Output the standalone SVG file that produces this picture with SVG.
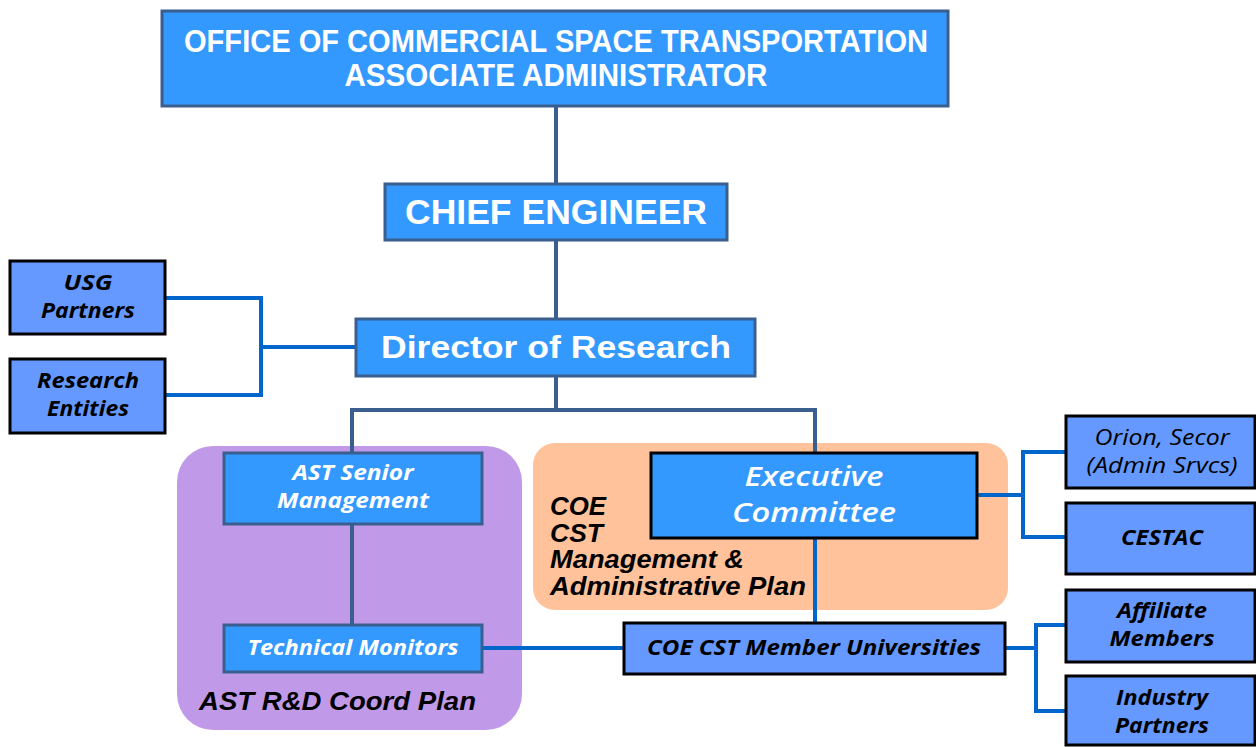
<svg xmlns="http://www.w3.org/2000/svg" width="1256" height="747" viewBox="0 0 1256 747">
<style>
.main{fill:#3399FF;stroke:#3A5F8F;stroke-width:3}
.ext{fill:#6699FF;stroke:#000;stroke-width:3}
.exb{fill:#3399FF;stroke:#000;stroke-width:3}
.dk{fill:none;stroke:#3A5F8F;stroke-width:4}
.bl{fill:none;stroke:#0066CC;stroke-width:4}
.tw{font-family:"Liberation Sans",Arial,sans-serif;font-weight:bold;fill:#fff;text-anchor:middle}
.ti{font-family:"Open Sans","Noto Sans",sans-serif;font-style:italic;font-weight:bold;text-anchor:middle}
.tn{font-family:"Open Sans","Noto Sans",sans-serif;font-style:italic;text-anchor:middle;fill:#000}
.lab{font-family:"Liberation Sans",Arial,sans-serif;font-style:italic;font-weight:bold;fill:#000}
</style>
<rect width="1256" height="747" fill="#fff"/>
<g id="groups">
<rect x="177" y="446" width="345" height="284" rx="36" fill="#C09AE8"/>
<rect x="533" y="443" width="475" height="167" rx="22" fill="#FFC29A"/>
<text class="lab" x="199" y="710" font-size="25" textLength="277" lengthAdjust="spacingAndGlyphs">AST R&amp;D Coord Plan</text>
<text class="lab" x="550" y="515" font-size="25" textLength="56" lengthAdjust="spacingAndGlyphs">COE</text>
<text class="lab" x="550" y="542" font-size="25" textLength="53" lengthAdjust="spacingAndGlyphs">CST</text>
<text class="lab" x="550" y="568" font-size="25" textLength="194" lengthAdjust="spacingAndGlyphs">Management &amp;</text>
<text class="lab" x="550" y="595" font-size="25" textLength="256" lengthAdjust="spacingAndGlyphs">Administrative Plan</text>
</g>
<g id="connectors">
<line class="dk" x1="556" y1="106" x2="556" y2="184"/>
<line class="dk" x1="556" y1="240" x2="556" y2="319"/>
<polyline class="dk" points="556,376 556,410"/>
<polyline class="dk" points="352,453 352,410 815,410 815,453"/>
<line class="dk" x1="352" y1="524" x2="352" y2="625"/>
<polyline class="bl" points="165,298 261,298 261,395 165,395"/>
<line class="bl" x1="261" y1="347" x2="356" y2="347"/>
<line class="bl" x1="815" y1="538" x2="815" y2="623"/>
<line class="bl" x1="482" y1="648" x2="624" y2="648"/>
<line class="bl" x1="977" y1="495" x2="1023" y2="495"/>
<polyline class="bl" points="1066,452 1023,452 1023,537 1066,537"/>
<line class="bl" x1="1005" y1="648" x2="1036" y2="648"/>
<polyline class="bl" points="1066,625 1036,625 1036,711 1066,711"/>
</g>
<g id="office">
<rect class="main" x="162" y="11" width="786" height="95"/>
<text class="tw" x="556" y="52" font-size="31" textLength="744" lengthAdjust="spacingAndGlyphs">OFFICE OF COMMERCIAL SPACE TRANSPORTATION</text>
<text class="tw" x="556" y="86" font-size="31" textLength="423" lengthAdjust="spacingAndGlyphs">ASSOCIATE ADMINISTRATOR</text>
</g>
<g id="chief">
<rect class="main" x="385" y="184" width="342" height="56"/>
<text class="tw" x="556" y="224" font-size="35" textLength="302" lengthAdjust="spacingAndGlyphs">CHIEF ENGINEER</text>
</g>
<g id="director">
<rect class="main" x="356" y="319" width="399" height="57"/>
<text class="tw" x="556" y="358" font-size="32" textLength="350" lengthAdjust="spacingAndGlyphs">Director of Research</text>
</g>
<g id="usg">
<rect class="ext" x="10" y="261" width="155" height="73"/>
<text class="ti" x="88" y="290" font-size="22" textLength="49" lengthAdjust="spacingAndGlyphs">USG</text>
<text class="ti" x="88" y="318" font-size="22" textLength="94" lengthAdjust="spacingAndGlyphs">Partners</text>
</g>
<g id="research">
<rect class="ext" x="10" y="359" width="155" height="74"/>
<text class="ti" x="88" y="388" font-size="22" textLength="102" lengthAdjust="spacingAndGlyphs">Research</text>
<text class="ti" x="88" y="416" font-size="22" textLength="82" lengthAdjust="spacingAndGlyphs">Entities</text>
</g>
<g id="ast-senior">
<rect class="main" x="224" y="453" width="258" height="71"/>
<text class="ti" x="353" y="480" font-size="22" fill="#fff" textLength="121" lengthAdjust="spacingAndGlyphs">AST Senior</text>
<text class="ti" x="353" y="508" font-size="22" fill="#fff" textLength="152" lengthAdjust="spacingAndGlyphs">Management</text>
</g>
<g id="tech-monitors">
<rect class="main" x="224" y="625" width="258" height="47"/>
<text class="ti" x="353" y="655" font-size="22" fill="#fff" textLength="211" lengthAdjust="spacingAndGlyphs">Technical Monitors</text>
</g>
<g id="exec">
<rect class="exb" x="651" y="453" width="326" height="85"/>
<text class="tn" x="814" y="486" font-size="27" font-weight="600" style="fill:#fff" textLength="139" lengthAdjust="spacingAndGlyphs">Executive</text>
<text class="tn" x="814" y="522" font-size="27" font-weight="600" style="fill:#fff" textLength="164" lengthAdjust="spacingAndGlyphs">Committee</text>
</g>
<g id="members">
<rect class="ext" x="624" y="623" width="381" height="51"/>
<text class="ti" x="814" y="655" font-size="22" textLength="334" lengthAdjust="spacingAndGlyphs">COE CST Member  Universities</text>
</g>
<g id="orion">
<rect class="ext" x="1066" y="416" width="189" height="72"/>
<text class="tn" x="1162" y="445" font-size="22" textLength="135" lengthAdjust="spacingAndGlyphs">Orion, Secor</text>
<text class="tn" x="1162" y="473" font-size="22" textLength="151" lengthAdjust="spacingAndGlyphs">(Admin Srvcs)</text>
</g>
<g id="cestac">
<rect class="ext" x="1066" y="503" width="189" height="71"/>
<text class="ti" x="1162" y="545" font-size="22" textLength="82" lengthAdjust="spacingAndGlyphs">CESTAC</text>
</g>
<g id="affiliate">
<rect class="ext" x="1066" y="590" width="189" height="72"/>
<text class="ti" x="1162" y="618" font-size="22" textLength="90" lengthAdjust="spacingAndGlyphs">Affiliate</text>
<text class="ti" x="1162" y="646" font-size="22" textLength="105" lengthAdjust="spacingAndGlyphs">Members</text>
</g>
<g id="industry">
<rect class="ext" x="1066" y="676" width="189" height="69"/>
<text class="ti" x="1162" y="705" font-size="22" textLength="92" lengthAdjust="spacingAndGlyphs">Industry</text>
<text class="ti" x="1162" y="733" font-size="22" textLength="94" lengthAdjust="spacingAndGlyphs">Partners</text>
</g>
</svg>
